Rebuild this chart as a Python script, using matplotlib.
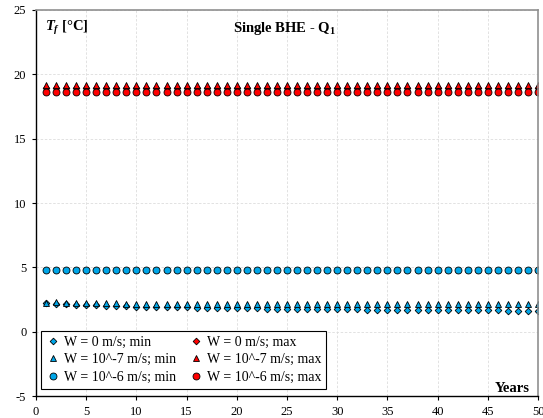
import numpy as np
import matplotlib
matplotlib.use("Agg")
import matplotlib.pyplot as plt

plt.rcParams['font.family'] = ['Liberation Serif', 'DejaVu Serif']
plt.rcParams['mathtext.fontset'] = 'custom'
plt.rcParams['mathtext.it'] = 'Liberation Serif:italic:bold'
plt.rcParams['mathtext.rm'] = 'Liberation Serif:bold'
plt.rcParams['axes.unicode_minus'] = False

years = list(range(1, 51))

# minimum fluid temperature [°C]
tmin_w0 = [2.22, 2.18, 2.14, 2.10, 2.07, 2.04, 2.01, 1.99, 1.97, 1.95,
           1.93, 1.92, 1.90, 1.89, 1.88, 1.87, 1.86, 1.85, 1.84, 1.83,
           1.82, 1.81, 1.80, 1.79, 1.78, 1.77, 1.76, 1.76, 1.75, 1.74,
           1.73, 1.73, 1.72, 1.71, 1.71, 1.70, 1.69, 1.69, 1.68, 1.68,
           1.67, 1.67, 1.66, 1.66, 1.65, 1.65, 1.64, 1.64, 1.63, 1.63]
tmin_w7 = [2.25, 2.30, 2.26, 2.23, 2.21, 2.20, 2.19, 2.19, 2.18, 2.18,
           2.18, 2.17, 2.17, 2.17, 2.17, 2.17, 2.17, 2.17, 2.17, 2.17,
           2.17, 2.17, 2.17, 2.17, 2.17, 2.17, 2.17, 2.17, 2.17, 2.17,
           2.17, 2.17, 2.17, 2.17, 2.17, 2.17, 2.17, 2.17, 2.17, 2.17,
           2.17, 2.17, 2.17, 2.17, 2.17, 2.17, 2.17, 2.17, 2.17, 2.17]
tmin_w6 = [4.80] * 50

# maximum fluid temperature [°C]
tmax_w0 = [18.90] * 50
tmax_w7 = [19.20] * 50
tmax_w6 = [18.65] * 50

blue = '#00A6E8'
red = '#FF0000'

fig = plt.figure(figsize=(5.43, 4.18), dpi=100)
ax = fig.add_axes([0.0663, 0.0526, 0.9245, 0.9235])

kw = dict(linestyle='none', markeredgecolor='black', markeredgewidth=0.6)
ax.plot(years, tmin_w0, marker='D', markersize=3.4, color=blue, label='W = 0 m/s; min', **kw)
ax.plot(years, tmin_w7, marker='^', markersize=4.4, color=blue, label='W = 10^-7 m/s; min', **kw)
ax.plot(years, tmin_w6, marker='o', markersize=5.0, color=blue, label='W = 10^-6 m/s; min', **kw)
ax.plot(years, tmax_w0, marker='D', markersize=3.4, color=red, label='W = 0 m/s; max', **kw)
ax.plot(years, tmax_w7, marker='^', markersize=4.4, color=red, label='W = 10^-7 m/s; max', **kw)
ax.plot(years, tmax_w6, marker='o', markersize=5.0, color=red, label='W = 10^-6 m/s; max', **kw)

ax.set_xlim(0, 50)
ax.set_ylim(-5, 25)
ax.set_xticks(np.arange(0, 51, 5))
ax.set_yticks(np.arange(-5, 26, 5))
ax.grid(True, color='#dddddd', linestyle=(0, (3, 2)), linewidth=0.6)
ax.set_axisbelow(True)
ax.tick_params(labelsize=9, direction='out', length=3, width=0.8, pad=4)

for side in ('left', 'bottom'):
    ax.spines[side].set_color('black')
    ax.spines[side].set_linewidth(1.0)
for side in ('top', 'right'):
    ax.spines[side].set_color('#909090')
    ax.spines[side].set_linewidth(1.2)

ax.text(0.9, 23.6, r'$T_f$ [°C]', fontsize=10.5, fontweight='bold', va='center', ha='left')
ax.text(24.8, 23.6, r'Single BHE - Q$_1$', fontsize=10.5, fontweight='bold', va='center', ha='center')
ax.text(49.2, -4.4, 'Years', fontsize=10.5, fontweight='bold', va='center', ha='right')

leg = ax.legend(ncol=2, loc='lower left', bbox_to_anchor=(0.01, 0.018),
                borderaxespad=0, fontsize=10, frameon=True, fancybox=False,
                edgecolor='black', framealpha=1.0, handletextpad=0.3,
                columnspacing=0.9, handlelength=1.0, labelspacing=0.35,
                borderpad=0.35, markerscale=1.0)
leg.get_frame().set_linewidth(0.8)

fig.savefig('out.png', dpi=100)
